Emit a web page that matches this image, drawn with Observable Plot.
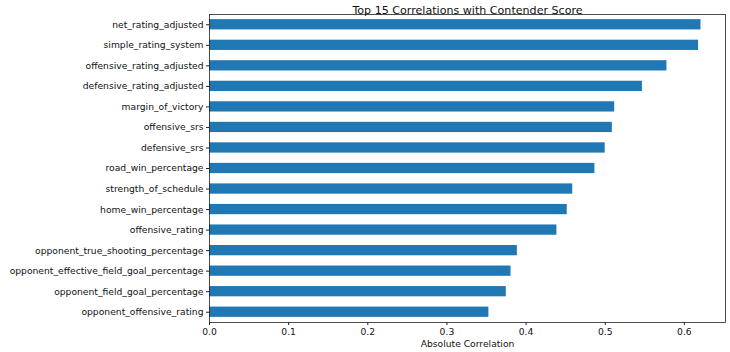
<!DOCTYPE html>
<html>
<head>
<meta charset="utf-8">
<script src="https://cdn.jsdelivr.net/npm/d3@7"></script>
<script src="https://cdn.jsdelivr.net/npm/@observablehq/plot@0.6"></script>
<style>
  html, body { margin: 0; padding: 0; background: #fff; }
  #chart svg { display: block; }
</style>
</head>
<body>
<div id="chart"></div>
<script>
const features = [
  "net_rating_adjusted",
  "simple_rating_system",
  "offensive_rating_adjusted",
  "defensive_rating_adjusted",
  "margin_of_victory",
  "offensive_srs",
  "defensive_srs",
  "road_win_percentage",
  "strength_of_schedule",
  "home_win_percentage",
  "offensive_rating",
  "opponent_true_shooting_percentage",
  "opponent_effective_field_goal_percentage",
  "opponent_field_goal_percentage",
  "opponent_offensive_rating"
];
const correlations = [0.621, 0.618, 0.578, 0.547, 0.512, 0.509, 0.500, 0.487, 0.459, 0.452, 0.439, 0.389, 0.381, 0.375, 0.353];
const xTicks = [0, 0.1, 0.2, 0.3, 0.4, 0.5, 0.6];
const titleText = "Top 15 Correlations with Contender Score";
const xLabel = "Absolute Correlation";

const data = features.map((f, i) => ({feature: f, value: correlations[i]}));

const chart = Plot.plot({
  width: 730,
  height: 352,
  marginLeft: 209,
  marginRight: 5,
  marginTop: 14,
  marginBottom: 30,
  style: {fontFamily: "DejaVu Sans, sans-serif", fontSize: "9.2px", color: "#111", background: "#fff"},
  x: {domain: [0, 0.652]},
  y: {domain: features, paddingInner: 0.5, paddingOuter: 0.25, round: false},
  marks: [
    Plot.barX(data, {x: "value", y: "feature", fill: "#1f77b4"}),
    Plot.axisX({ticks: xTicks, tickFormat: ".1f", tickSize: 3, tickPadding: 3, label: null, stroke: "#222"}),
    Plot.axisY({tickSize: 3, tickPadding: 3, label: null, stroke: "#222"}),
    Plot.frame({stroke: "#222", strokeWidth: 0.8}),
    Plot.text([titleText], {frameAnchor: "top", dy: -8.5, fontSize: 11.1, fill: "#111"}),
    Plot.text([xLabel], {frameAnchor: "bottom", dy: 24, fontSize: 9.2, fill: "#111"})
  ]
});
document.getElementById("chart").appendChild(chart);
</script>
</body>
</html>
